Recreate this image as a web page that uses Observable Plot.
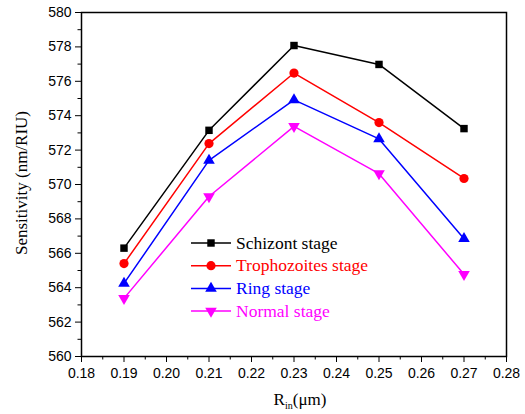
<!DOCTYPE html>
<html>
<head>
<meta charset="utf-8">
<script src="https://cdn.jsdelivr.net/npm/d3@7"></script>
<script src="https://cdn.jsdelivr.net/npm/@observablehq/plot@0.6"></script>
<style>
  html, body { margin: 0; padding: 0; background: #fff; }
  #chart { width: 525px; height: 414px; }
  .serif-text, .serif-text tspan { font-family: "Liberation Serif", "Times New Roman", Times, serif !important; }
</style>
</head>
<body>
<div id="chart"></div>
<script>
const rin = [0.19, 0.21, 0.23, 0.25, 0.27];
const schizont = [566.3, 573.15, 578.08, 576.98, 573.25];
const trophozoites = [565.4, 572.38, 576.48, 573.6, 570.35];
const ring = [564.25, 571.4, 574.92, 572.65, 566.85];
const normal = [563.38, 569.3, 573.38, 570.63, 564.78];

const seriesNames = ["Schizont stage", "Trophozoites stage", "Ring stage", "Normal stage"];
const seriesValues = [schizont, trophozoites, ring, normal];
const seriesColors = ["#000000", "#ff0000", "#0000ff", "#ff00ff"];

const yMajorTicks = [560, 562, 564, 566, 568, 570, 572, 574, 576, 578, 580];
const yMinorTicks = [561, 563, 565, 567, 569, 571, 573, 575, 577, 579];
const xMajorTicks = [0.18, 0.19, 0.20, 0.21, 0.22, 0.23, 0.24, 0.25, 0.26, 0.27, 0.28];
const xMinorTicks = [0.185, 0.195, 0.205, 0.215, 0.225, 0.235, 0.245, 0.255, 0.265, 0.275];

const sqrt3 = Math.sqrt(3);
const triangleDown = {
  draw(context, size) {
    const y = -Math.sqrt(size / (sqrt3 * 3));
    context.moveTo(0, -y * 2);
    context.lineTo(-sqrt3 * y, y);
    context.lineTo(sqrt3 * y, y);
    context.closePath();
  }
};
const seriesSymbols = [d3.symbolSquare, d3.symbolCircle, d3.symbolTriangle, triangleDown];
const seriesR = [4.2, 4.6, 4.3, 4.3];

const table = [];
seriesNames.forEach((name, i) => {
  rin.forEach((x, j) => table.push({series: name, idx: i, x, y: seriesValues[i][j]}));
});

const marks = [];
seriesNames.forEach((name, i) => {
  const d = table.filter(r => r.idx === i);
  marks.push(Plot.line(d, {x: "x", y: "y", stroke: seriesColors[i], strokeWidth: 1.5}));
  marks.push(Plot.dot(d, {x: "x", y: "y", fill: seriesColors[i], stroke: "none", symbol: seriesSymbols[i], r: seriesR[i]}));
});

const plot = Plot.plot({
  width: 525,
  height: 414,
  marginLeft: 81,
  marginRight: 19,
  marginTop: 12,
  marginBottom: 58,
  style: {fontFamily: "'Liberation Sans', Arial, sans-serif", fontSize: "14px", background: "#fff", color: "#000"},
  x: {domain: [0.18, 0.28]},
  y: {domain: [560, 580]},
  marks: [
    Plot.axisY({ticks: yMinorTicks, tickSize: 3.5, tickFormat: () => "", label: null}),
    Plot.axisY({ticks: yMajorTicks, tickSize: 6, tickPadding: 4, tickFormat: d3.format("d"), label: null, fontSize: 14}),
    Plot.axisX({ticks: xMinorTicks, tickSize: 3.5, tickFormat: () => "", label: null}),
    Plot.axisX({ticks: xMajorTicks, tickSize: 6, tickPadding: 6, tickFormat: d3.format(".2f"), label: null, fontSize: 14}),
    ...marks,
    Plot.frame({stroke: "#000", strokeWidth: 1.5})
  ]
});

document.getElementById("chart").appendChild(plot);

const svg = d3.select(plot);

// Axis titles
svg.append("text")
  .attr("class", "serif-text")
  .attr("transform", "translate(27,183) rotate(-90)")
  .attr("text-anchor", "middle")
  .style("font-size", "17px")
  .attr("fill", "#000")
  .text("Sensitivity (nm/RIU)");

const xt = svg.append("text")
  .attr("class", "serif-text")
  .attr("x", 300)
  .attr("y", 405)
  .attr("text-anchor", "middle")
  .style("font-size", "17px")
  .attr("fill", "#000");
xt.append("tspan").text("R");
xt.append("tspan").style("font-size", "10px").attr("dy", 4).text("in");
xt.append("tspan").attr("dy", -4).text("(\u03bcm)");

// Legend
const lg = svg.append("g").attr("transform", "translate(191,243)");
seriesNames.forEach((name, i) => {
  const row = lg.append("g").attr("transform", `translate(0,${i * 22.7})`);
  row.append("line").attr("x1", 0).attr("x2", 40).attr("y1", 0).attr("y2", 0)
    .attr("stroke", seriesColors[i]).attr("stroke-width", 1.5);
  row.append("path").attr("transform", "translate(20,0)")
    .attr("d", d3.symbol(seriesSymbols[i], seriesR[i] * seriesR[i] * Math.PI)())
    .attr("fill", seriesColors[i]);
  row.append("text").attr("class", "serif-text").attr("x", 45).attr("y", 0).attr("dy", "0.33em")
    .attr("text-anchor", "start")
    .style("font-size", "17.5px")
    .attr("fill", seriesColors[i]).text(name);
});
</script>
</body>
</html>
